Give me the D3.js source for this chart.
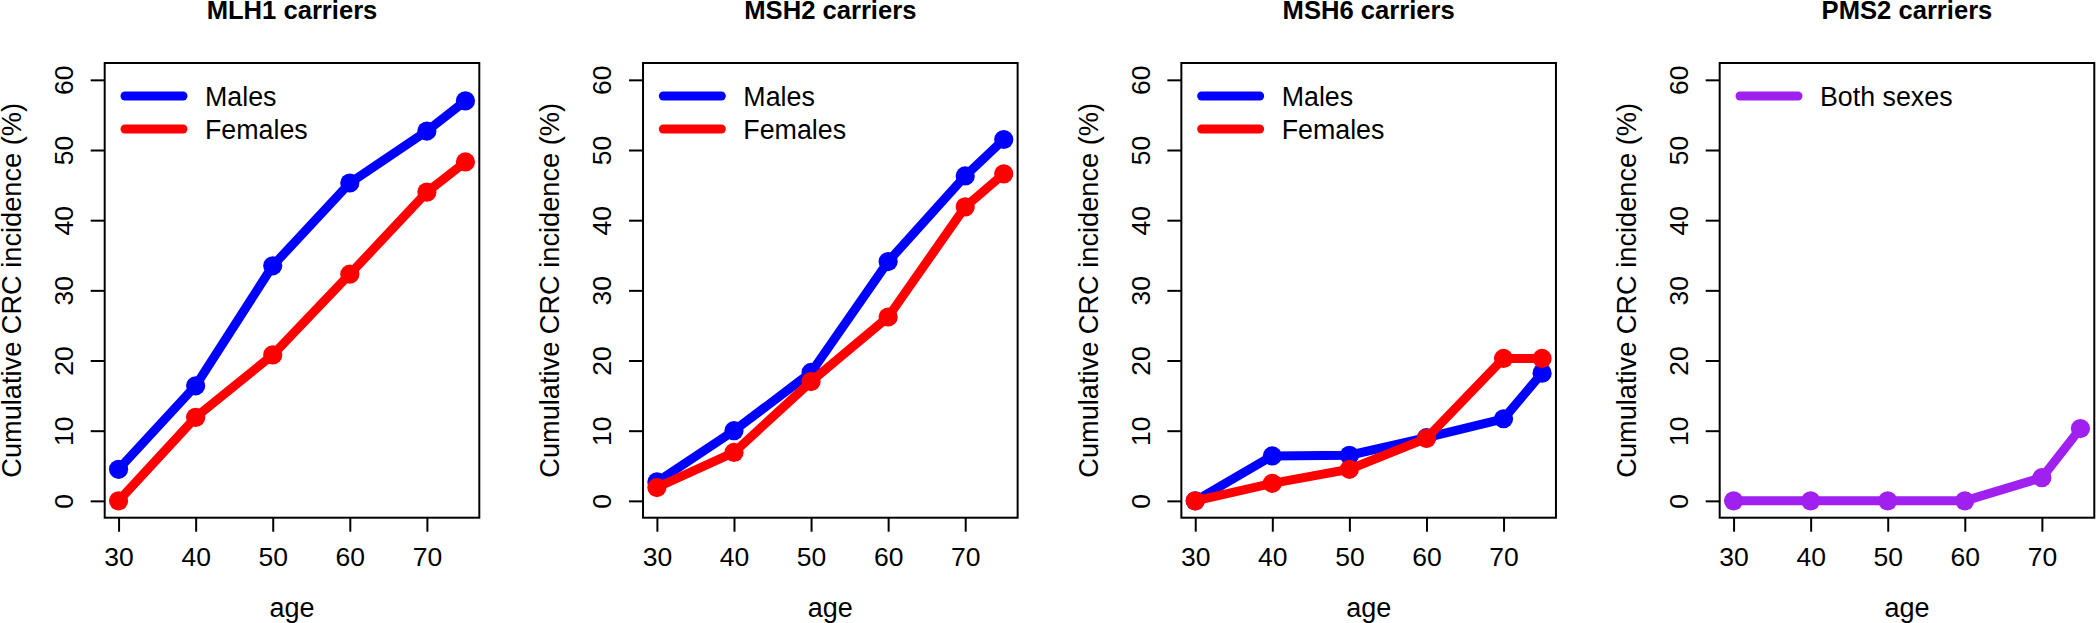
<!DOCTYPE html>
<html>
<head>
<meta charset="utf-8">
<script src="https://cdn.jsdelivr.net/npm/d3@7"></script>
<style>
  html, body { margin: 0; padding: 0; background: #fff; }
  svg { display: block; }
  text { font-family: "Liberation Sans", Arial, Helvetica, sans-serif; fill: #000; }
</style>
</head>
<body>
<svg id="chart" width="2096" height="623"></svg>
<script>
// ---- data ----
const ages = [30, 40, 50, 60, 70, 75];
const panelTitles = ["MLH1 carriers", "MSH2 carriers", "MSH6 carriers", "PMS2 carriers"];
const mlh1Males   = [4.5, 16.4, 33.5, 45.3, 52.7, 57.0];
const mlh1Females = [0.0, 11.9, 20.8, 32.3, 44.0, 48.3];
const msh2Males   = [2.7, 10.0, 18.3, 34.1, 46.3, 51.5];
const msh2Females = [1.9, 6.9, 17.0, 26.2, 41.9, 46.6];
const msh6Males   = [0.0, 6.4, 6.5, 9.0, 11.7, 18.2];
const msh6Females = [0.0, 2.5, 4.5, 8.9, 20.3, 20.3];
const pms2Both    = [0.0, 0.0, 0.0, 0.0, 3.3, 10.3];
const xTicks = [30, 40, 50, 60, 70];
const yTicks = [0, 10, 20, 30, 40, 50, 60];
const xLabel = "age";
const yLabel = "Cumulative CRC incidence (%)";

const panels = [
  { title: panelTitles[0], series: [
      { name: "Males", values: mlh1Males, color: "#0000FF" },
      { name: "Females", values: mlh1Females, color: "#FF0000" } ] },
  { title: panelTitles[1], series: [
      { name: "Males", values: msh2Males, color: "#0000FF" },
      { name: "Females", values: msh2Females, color: "#FF0000" } ] },
  { title: panelTitles[2], series: [
      { name: "Males", values: msh6Males, color: "#0000FF" },
      { name: "Females", values: msh6Females, color: "#FF0000" } ] },
  { title: panelTitles[3], series: [
      { name: "Both sexes", values: pms2Both, color: "#A020F0" } ] }
];

// ---- layout ----
const svg = d3.select("#chart");
const panelStep = 538.33;
const box = { left: 104.7, right: 479.3, top: 63, bottom: 517.7 };
const fs = 26.5;

const x = d3.scaleLinear().domain([28.2, 76.8]).range([box.left, box.right]);
const y = d3.scaleLinear().domain([-2.4, 62.4]).range([box.bottom, box.top]);

panels.forEach((p, i) => {
  const g = svg.append("g").attr("transform", `translate(${i * panelStep},0)`);

  // title
  g.append("text")
    .attr("x", (box.left + box.right) / 2)
    .attr("y", 18.5)
    .attr("text-anchor", "middle")
    .style("font-weight", "bold")
    .style("font-size", "25.6px")
    .text(p.title);

  // x axis
  const gx = g.append("g")
    .attr("transform", `translate(0,${box.bottom})`)
    .call(d3.axisBottom(x).tickValues(xTicks).tickSize(14).tickFormat(d3.format("d")));
  gx.select(".domain").remove();
  gx.selectAll(".tick line").attr("stroke", "#000").attr("stroke-width", 2);
  gx.selectAll(".tick text")
    .attr("y", 48).attr("dy", 0)
    .style("font-size", fs + "px").attr("fill", "#000");

  // y axis
  const gy = g.append("g")
    .attr("transform", `translate(${box.left},0)`)
    .call(d3.axisLeft(y).tickValues(yTicks).tickSize(14).tickFormat(d3.format("d")));
  gy.select(".domain").remove();
  gy.selectAll(".tick line").attr("stroke", "#000").attr("stroke-width", 2);
  gy.selectAll(".tick text")
    .attr("transform", "rotate(-90)")
    .attr("x", 0).attr("y", -31.7).attr("dy", 0)
    .attr("text-anchor", "middle")
    .style("font-size", fs + "px").attr("fill", "#000");

  // axis titles
  g.append("text")
    .attr("x", (box.left + box.right) / 2)
    .attr("y", 617)
    .attr("text-anchor", "middle")
    .style("font-size", "27px")
    .text(xLabel);
  g.append("text")
    .attr("transform", `translate(21,${(box.top + box.bottom) / 2}) rotate(-90)`)
    .attr("text-anchor", "middle")
    .style("font-size", "27.2px")
    .text(yLabel);

  // series
  const line = d3.line().x((d, k) => x(ages[k])).y(d => y(d));
  p.series.forEach(s => {
    g.append("path")
      .datum(s.values)
      .attr("d", line)
      .attr("fill", "none")
      .attr("stroke", s.color)
      .attr("stroke-width", 9)
      .attr("stroke-linejoin", "round")
      .attr("stroke-linecap", "round");
    g.selectAll(null)
      .data(s.values)
      .enter().append("circle")
      .attr("cx", (d, k) => x(ages[k]))
      .attr("cy", d => y(d))
      .attr("r", 9.6)
      .attr("fill", s.color);
  });

  // legend
  p.series.forEach((s, k) => {
    const ly = 96 + k * 33;
    g.append("line")
      .attr("x1", 125).attr("x2", 183)
      .attr("y1", ly).attr("y2", ly)
      .attr("stroke", s.color)
      .attr("stroke-width", 9)
      .attr("stroke-linecap", "round");
    g.append("text")
      .attr("x", 205)
      .attr("y", ly + 10.3)
      .style("font-size", "26.8px")
      .text(s.name);
  });

  // box
  g.append("rect")
    .attr("x", box.left).attr("y", box.top)
    .attr("width", box.right - box.left)
    .attr("height", box.bottom - box.top)
    .attr("fill", "none")
    .attr("stroke", "#000")
    .attr("stroke-width", 2);
});
</script>
</body>
</html>
